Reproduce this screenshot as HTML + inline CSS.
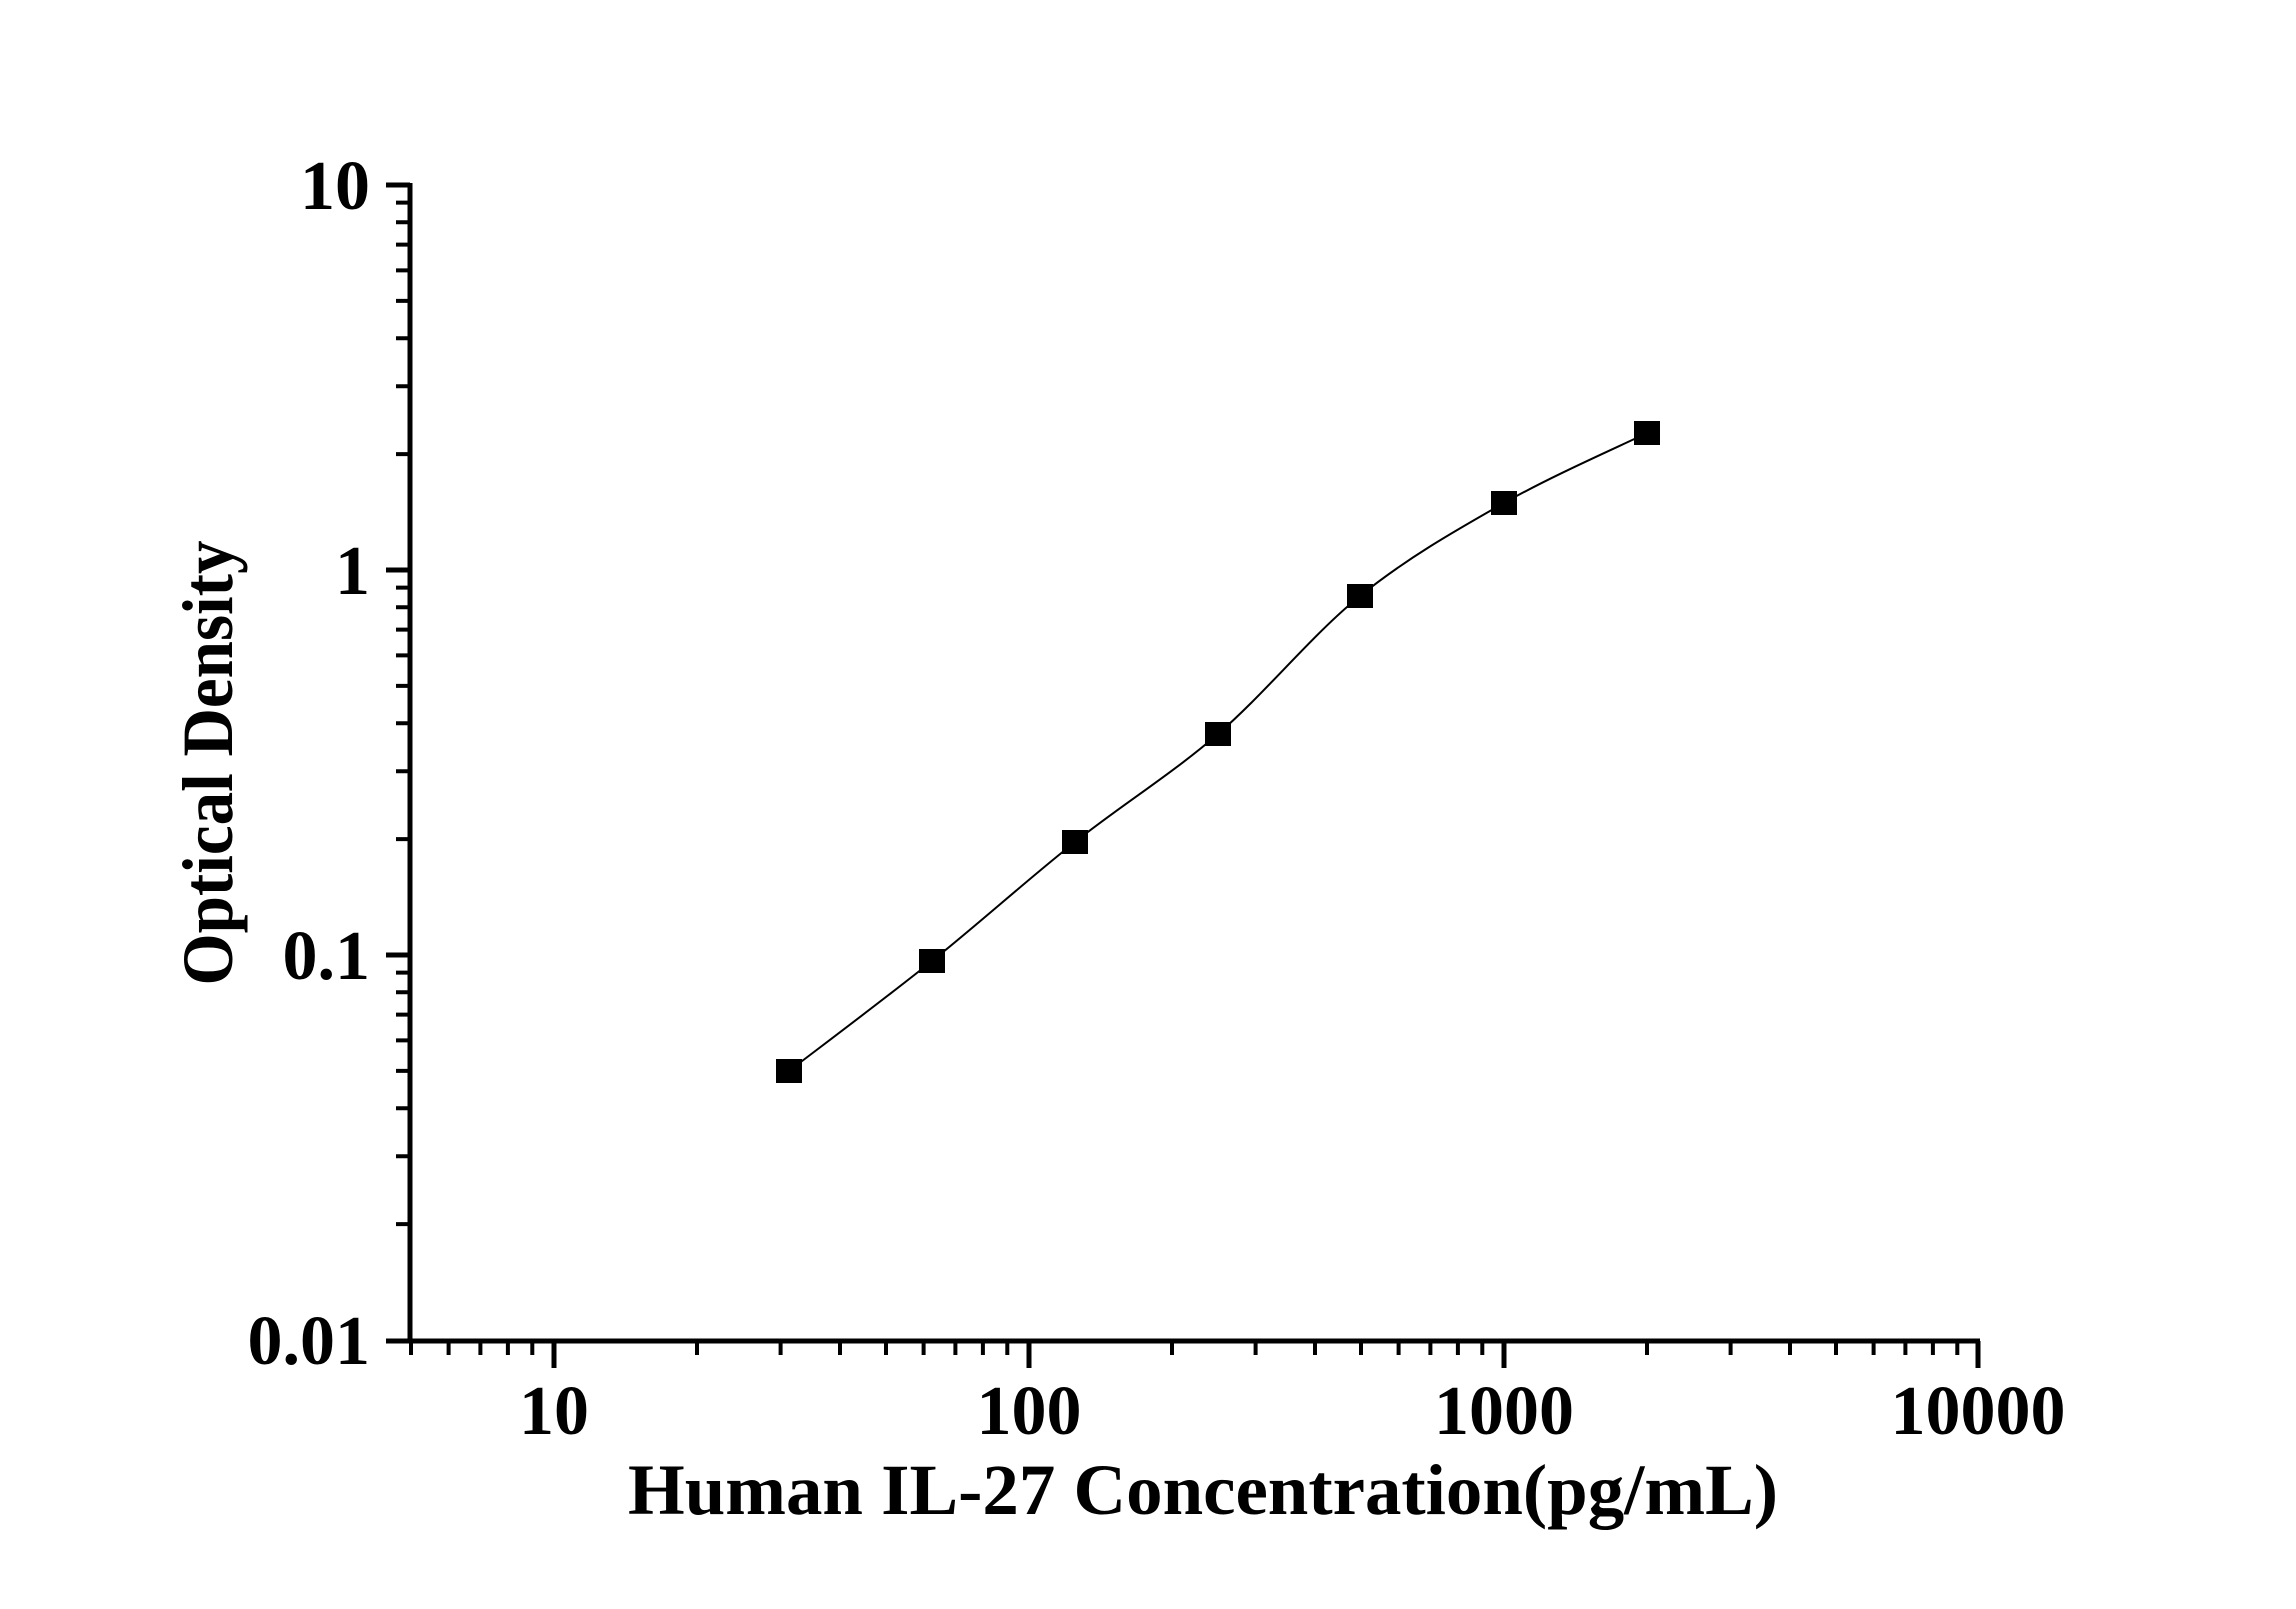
<!DOCTYPE html>
<html><head><style>html,body{margin:0;padding:0;background:#fff}</style></head>
<body>
<svg width="2296" height="1604" viewBox="0 0 2296 1604" xmlns="http://www.w3.org/2000/svg" font-family="'Liberation Serif', serif" font-weight="bold">
<g stroke="#000" stroke-width="5" fill="none">
<line x1="410" y1="183" x2="410" y2="1343"/>
<line x1="386" y1="1341" x2="1980" y2="1341"/>
<line x1="1978" y1="1341" x2="1978" y2="1368"/>
<line x1="386" y1="185" x2="410" y2="185"/>
<line x1="386" y1="570" x2="410" y2="570"/>
<line x1="386" y1="955" x2="410" y2="955"/>
<line x1="554" y1="1341" x2="554" y2="1368"/>
<line x1="1029" y1="1341" x2="1029" y2="1368"/>
<line x1="1504" y1="1341" x2="1504" y2="1368"/>
</g>
<path stroke="#000" stroke-width="4" fill="none" d="
M396 454.1H410 M396 386.3H410 M396 338.2H410 M396 300.9H410 M396 270.4H410 M396 244.6H410 M396 222.3H410 M396 202.6H410
M396 839.1H410 M396 771.3H410 M396 723.2H410 M396 685.9H410 M396 655.4H410 M396 629.6H410 M396 607.3H410 M396 587.6H410
M396 1224.1H410 M396 1156.3H410 M396 1108.2H410 M396 1070.9H410 M396 1040.4H410 M396 1014.6H410 M396 992.3H410 M396 972.6H410
M411 1341V1355 M448.6 1341V1355 M480.4 1341V1355 M507.9 1341V1355 M532.3 1341V1355
M697 1341V1355 M780.6 1341V1355 M840 1341V1355 M886 1341V1355 M923.6 1341V1355 M955.4 1341V1355 M982.9 1341V1355 M1007.3 1341V1355
M1172 1341V1355 M1255.6 1341V1355 M1315 1341V1355 M1361 1341V1355 M1398.6 1341V1355 M1430.4 1341V1355 M1457.9 1341V1355 M1482.3 1341V1355
M1647 1341V1355 M1730.6 1341V1355 M1790 1341V1355 M1836 1341V1355 M1873.6 1341V1355 M1905.4 1341V1355 M1932.9 1341V1355 M1957.3 1341V1355"/>
<g font-size="70" text-anchor="end" fill="#000">
<text x="370" y="209">10</text>
<text x="370" y="594">1</text>
<text x="370" y="979">0.1</text>
<text x="370" y="1364">0.01</text>
</g>
<g font-size="70" text-anchor="middle" fill="#000">
<text x="554" y="1434">10</text>
<text x="1029" y="1434">100</text>
<text x="1504" y="1434">1000</text>
<text x="1978" y="1434">10000</text>
</g>
<text x="1203" y="1514" font-size="72" text-anchor="middle" textLength="1150" lengthAdjust="spacingAndGlyphs">Human IL-27 Concentration(pg/mL)</text>
<text transform="translate(232,763) rotate(-90)" font-size="72" text-anchor="middle" textLength="445" lengthAdjust="spacingAndGlyphs">Optical Density</text>
<path fill="none" stroke="#000" stroke-width="2" d="M789,1071 C812.8,1052.7 884.3,999.2 932,961 C979.7,922.8 1027.3,879.8 1075,842 C1122.7,804.2 1170.5,775 1218,734 C1265.5,693 1312.3,634.5 1360,596 C1407.7,557.5 1456.2,530.2 1504,503 C1551.8,475.8 1623.2,444.7 1647,433"/>
<g fill="#000">
<rect x="776" y="1059" width="26" height="24"/>
<rect x="919" y="949" width="26" height="24"/>
<rect x="1062" y="830" width="26" height="24"/>
<rect x="1205" y="722" width="26" height="24"/>
<rect x="1347" y="584" width="26" height="24"/>
<rect x="1491" y="491" width="26" height="24"/>
<rect x="1634" y="421" width="26" height="24"/>
</g>
</svg>
</body></html>
